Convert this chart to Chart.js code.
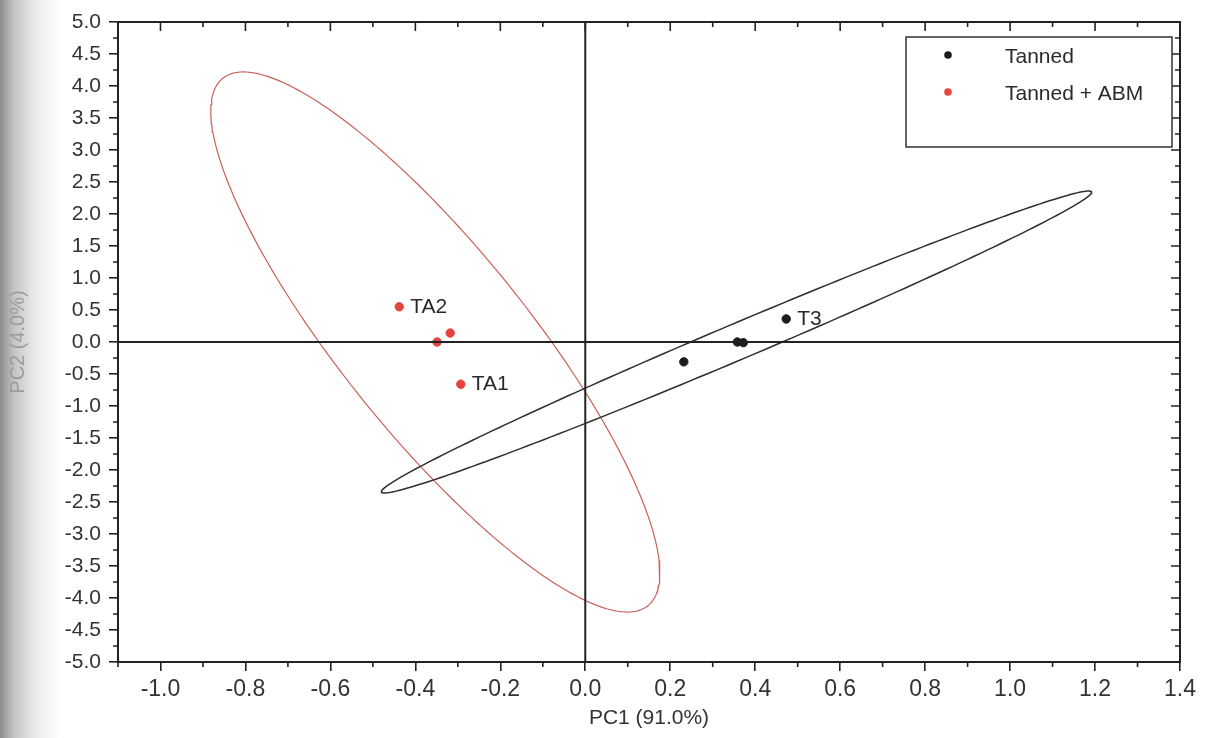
<!DOCTYPE html>
<html lang="en">
<head>
<meta charset="UTF-8">
<title>PCA scores</title>
<script src="https://cdn.jsdelivr.net/npm/chart.js"></script>
<style>
  body { margin: 0; background: linear-gradient(90deg, #8c8c8c 0px, #c4c4c4 14px, #e9e9e9 34px, #ffffff 60px); }
  canvas { display: block; }
</style>
</head>
<body>
<canvas id="pcaChart" width="1213" height="738"></canvas>
<script>
  // score values per group
  const tannedX = [0.232, 0.358, 0.372, 0.473];
  const tannedY = [-0.31, 0.0, -0.01, 0.36];
  const tannedNames = ['', '', '', 'T3'];

  const abmX = [-0.438, -0.318, -0.349, -0.293];
  const abmY = [0.55, 0.14, 0.0, -0.66];
  const abmNames = ['TA2', '', '', 'TA1'];

  // confidence ellipses: centre x, centre y, then two conjugate semi-axes (dx1, dy1, dx2, dy2)
  const tannedEllipse = [0.356, 0.0, 0.836, 2.34, 0.0, 0.305];
  const abmEllipse = [-0.353, 0.0, -0.452, 4.22, 0.274, 0.0];

  const xMajor = [-1.0, -0.8, -0.6, -0.4, -0.2, 0.0, 0.2, 0.4, 0.6, 0.8, 1.0, 1.2, 1.4];
  const yMajor = [-5.0, -4.5, -4.0, -3.5, -3.0, -2.5, -2.0, -1.5, -1.0, -0.5, 0.0,
                  0.5, 1.0, 1.5, 2.0, 2.5, 3.0, 3.5, 4.0, 4.5, 5.0];

  const BLACK = '#1c1c1c';
  const RED = '#e5433d';
  const FONT = '"Liberation Sans", Arial, sans-serif';

  function toPoints(xs, ys) {
    return xs.map((x, i) => ({ x: x, y: ys[i] }));
  }

  function outline(e) {
    const pts = [];
    for (let i = 0; i <= 240; i++) {
      const t = i / 240 * Math.PI * 2;
      pts.push({
        x: e[0] + e[2] * Math.cos(t) + e[4] * Math.sin(t),
        y: e[1] + e[3] * Math.cos(t) + e[5] * Math.sin(t)
      });
    }
    return pts;
  }

  function midpoints(arr) {
    const out = [];
    for (let i = 0; i < arr.length - 1; i++) out.push((arr[i] + arr[i + 1]) / 2);
    return out;
  }

  // frame, minor ticks, zero lines, point names and the boxed legend
  const decorations = {
    id: 'decorations',
    afterDatasetsDraw(chart) {
      const ctx = chart.ctx;
      const a = chart.chartArea;
      const xs = chart.scales.x, ys = chart.scales.y;
      ctx.save();
      ctx.strokeStyle = '#222';
      ctx.lineWidth = 2;
      ctx.beginPath();
      const y0 = ys.getPixelForValue(0), x0 = xs.getPixelForValue(0);
      ctx.moveTo(a.left, y0); ctx.lineTo(a.right, y0);
      ctx.moveTo(x0, a.top); ctx.lineTo(x0, a.bottom);
      ctx.stroke();

      ctx.fillStyle = '#2a2a2a';
      ctx.font = '21px ' + FONT;
      ctx.textBaseline = 'middle';
      const names = [tannedNames, abmNames];
      [chart.getDatasetMeta(0), chart.getDatasetMeta(1)].forEach((meta, k) => {
        meta.data.forEach((el, i) => {
          if (names[k][i]) ctx.fillText(names[k][i], el.x + 11, el.y);
        });
      });
      ctx.restore();
    },
    afterDraw(chart) {
      const ctx = chart.ctx;
      const a = chart.chartArea;
      const xs = chart.scales.x, ys = chart.scales.y;
      ctx.save();
      ctx.strokeStyle = '#222';
      ctx.lineWidth = 2;
      ctx.strokeRect(a.left, a.top, a.right - a.left, a.bottom - a.top);

      ctx.lineWidth = 1.6;
      ctx.beginPath();
      const xMinor = [-1.1].concat(midpoints(xMajor));
      const yMinor = midpoints(yMajor);
      // bottom minor out, top major/minor in
      xMinor.forEach(v => {
        const p = xs.getPixelForValue(v);
        ctx.moveTo(p, a.bottom); ctx.lineTo(p, a.bottom + 5);
        ctx.moveTo(p, a.top); ctx.lineTo(p, a.top + 5);
      });
      xMajor.forEach(v => {
        const p = xs.getPixelForValue(v);
        ctx.moveTo(p, a.top); ctx.lineTo(p, a.top + 9);
      });
      // left minor out, right major/minor in
      yMinor.forEach(v => {
        const p = ys.getPixelForValue(v);
        ctx.moveTo(a.left, p); ctx.lineTo(a.left - 5, p);
        ctx.moveTo(a.right, p); ctx.lineTo(a.right - 5, p);
      });
      yMajor.forEach(v => {
        const p = ys.getPixelForValue(v);
        ctx.moveTo(a.right, p); ctx.lineTo(a.right - 9, p);
      });
      ctx.stroke();

      // legend box
      const bx = a.right - 274, by = a.top + 15, bw = 266, bh = 110;
      ctx.fillStyle = '#fff';
      ctx.fillRect(bx, by, bw, bh);
      ctx.strokeStyle = '#333';
      ctx.lineWidth = 1.5;
      ctx.strokeRect(bx, by, bw, bh);
      ctx.font = '21px ' + FONT;
      ctx.textBaseline = 'middle';
      chart.data.datasets.slice(0, 2).forEach((ds, i) => {
        const cy = by + 18 + i * 37;
        ctx.fillStyle = ds.backgroundColor;
        ctx.beginPath();
        ctx.arc(bx + 42, cy, 3.8, 0, Math.PI * 2);
        ctx.fill();
        ctx.fillStyle = '#2a2a2a';
        ctx.fillText(ds.label, bx + 99, cy + 2);
      });
      ctx.restore();
    }
  };

  new Chart(document.getElementById('pcaChart'), {
    type: 'scatter',
    data: {
      datasets: [
        {
          label: 'Tanned',
          data: toPoints(tannedX, tannedY),
          backgroundColor: BLACK,
          borderColor: BLACK,
          pointRadius: 4.2,
          order: 0
        },
        {
          label: 'Tanned + ABM',
          data: toPoints(abmX, abmY),
          backgroundColor: RED,
          borderColor: RED,
          pointRadius: 4.2,
          order: 0
        },
        {
          label: 'Tanned ellipse',
          data: outline(tannedEllipse),
          showLine: true,
          borderColor: '#2e2e2e',
          borderWidth: 1.5,
          pointRadius: 0,
          order: 1
        },
        {
          label: 'Tanned + ABM ellipse',
          data: outline(abmEllipse),
          showLine: true,
          borderColor: '#c9605a',
          borderWidth: 1.2,
          pointRadius: 0,
          order: 1
        }
      ]
    },
    options: {
      responsive: false,
      animation: false,
      layout: { padding: { top: 22, right: 33, left: 0, bottom: 0 } },
      plugins: { legend: { display: false }, tooltip: { enabled: false } },
      scales: {
        x: {
          min: -1.1,
          max: 1.4,
          afterBuildTicks: s => { s.ticks = xMajor.map(v => ({ value: v })); },
          afterFit: s => { s.height = 76; },
          grid: { drawOnChartArea: false, color: '#222', lineWidth: 1.6, tickLength: 9 },
          border: { display: false },
          ticks: {
            color: '#333',
            font: { family: FONT, size: 23 },
            padding: 5,
            maxRotation: 0,
            callback: v => v.toFixed(1)
          },
          title: {
            display: true,
            text: 'PC1 (91.0%)',
            color: '#333',
            font: { family: FONT, size: 21 },
            padding: { top: 4, bottom: 7 }
          }
        },
        y: {
          min: -5,
          max: 5,
          afterBuildTicks: s => { s.ticks = yMajor.map(v => ({ value: v })); },
          afterFit: s => { s.width = 118; },
          grid: { drawOnChartArea: false, color: '#222', lineWidth: 1.6, tickLength: 9 },
          border: { display: false },
          ticks: {
            color: '#333',
            font: { family: FONT, size: 21 },
            padding: 8,
            callback: v => v.toFixed(1)
          },
          title: {
            display: true,
            text: 'PC2 (4.0%)',
            color: '#9c9c9c',
            font: { family: FONT, size: 20 },
            padding: { top: 6, bottom: 0 }
          }
        }
      }
    },
    plugins: [decorations]
  });
</script>
</body>
</html>
